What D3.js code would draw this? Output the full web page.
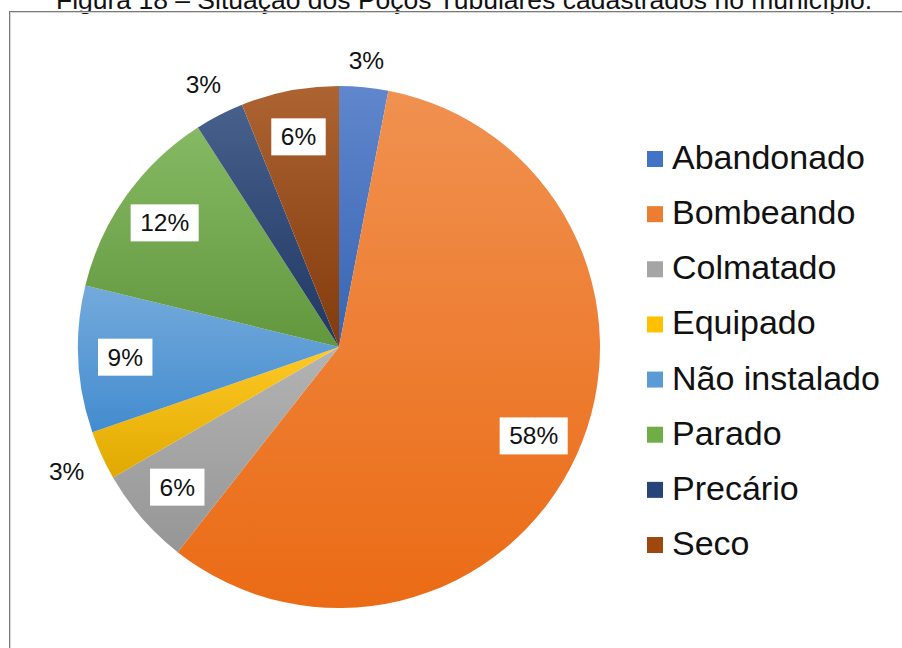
<!DOCTYPE html>
<html>
<head>
<meta charset="utf-8">
<script src="https://cdn.jsdelivr.net/npm/d3@7"></script>
<style>
body { margin: 0; background: #fff; }
text { font-family: "Liberation Sans", Arial, sans-serif; }
</style>
</head>
<body>
<svg id="chart"></svg>
<script>
// situação dos poços (número de poços por categoria)
var categories = ["Abandonado", "Bombeando", "Colmatado", "Equipado", "Não instalado", "Parado", "Precário", "Seco"];
var counts = [1, 19, 2, 1, 3, 4, 1, 2];
var colors = ["#4472C4", "#ED7D31", "#A5A5A5", "#FFC000", "#5B9BD5", "#70AD47", "#264478", "#9E480E"];
var title = "Figura 18 – Situação dos Poços Tubulares cadastrados no município.";

var width = 902, height = 648;
var cx = 339, cy = 347, radius = 261;

var svg = d3.select("#chart")
    .attr("width", width)
    .attr("height", height);

svg.append("rect").attr("width", width).attr("height", height).attr("fill", "#fff");

// titulo (cortado pela borda superior, como na figura original)
svg.append("text")
    .attr("x", 464)
    .attr("y", 8.5)
    .attr("text-anchor", "middle")
    .attr("font-size", 26.5)
    .attr("fill", "#111")
    .text(title);

// moldura do grafico
svg.append("rect")
    .attr("x", 9.5).attr("y", 11.5)
    .attr("width", 1000).attr("height", 1000)
    .attr("fill", "none").attr("stroke", "#7a7a7a");
svg.append("rect")
    .attr("x", 10.5).attr("y", 12.5)
    .attr("width", 1000).attr("height", 1000)
    .attr("fill", "none").attr("stroke", "#d6d6d6");

var total = d3.sum(counts);
var fmt = d3.format(".0%");

// gradientes verticais (mais claro em cima)
var defs = svg.append("defs");
colors.forEach(function(c, i) {
  var top = d3.interpolateRgb(c, "#fff")(0.15);
  var h = d3.hsl(c);
  h.l = h.l - 0.06;
  var g = defs.append("linearGradient")
      .attr("id", "grad" + i)
      .attr("x1", 0).attr("y1", 0).attr("x2", 0).attr("y2", 1);
  g.append("stop").attr("offset", "0%").attr("stop-color", top);
  g.append("stop").attr("offset", "100%").attr("stop-color", h.formatHex());
});

var pie = d3.pie().sort(null).value(function(d) { return d; });
var arcs = pie(counts);

var arc = d3.arc().innerRadius(0).outerRadius(radius);
var labelArc = d3.arc().innerRadius(radius * 0.82).outerRadius(radius * 0.82);

var g = svg.append("g").attr("transform", "translate(" + cx + "," + cy + ")");

g.selectAll(".slice")
    .data(arcs)
  .enter().append("path")
    .attr("class", "slice")
    .attr("d", arc)
    .attr("fill", function(d, i) { return "url(#grad" + i + ")"; });

// rotulos
var fontSize = 24.5, padX = 9.5, boxH = 37;
arcs.forEach(function(d, i) {
  var share = d.value / total;
  var lbl = g.append("g");
  var t = lbl.append("text")
      .attr("text-anchor", "middle")
      .attr("dy", "0.35em")
      .attr("font-size", fontSize)
      .attr("fill", "#111")
      .text(fmt(share));
  var w = t.node().getComputedTextLength() + 2 * padX;
  var pos;
  if (share >= 0.05) {
    pos = labelArc.centroid(d);
    lbl.insert("rect", "text")
        .attr("x", -w / 2).attr("y", -boxH / 2)
        .attr("width", w).attr("height", boxH)
        .attr("fill", "#fff");
  } else {
    var a = (d.startAngle + d.endAngle) / 2;
    var ux = Math.sin(a), uy = -Math.cos(a);
    var dist = radius + 6 + Math.abs(ux) * w / 2 + Math.abs(uy) * boxH / 2;
    pos = [ux * dist, uy * dist];
  }
  lbl.attr("transform", "translate(" + pos[0] + "," + pos[1] + ")");
});

// legenda
var y = d3.scalePoint()
    .domain(categories)
    .range([159, 545]);

var legend = svg.append("g").selectAll(".legend")
    .data(categories)
  .enter().append("g")
    .attr("class", "legend")
    .attr("transform", function(d) { return "translate(647," + y(d) + ")"; });

legend.append("rect")
    .attr("x", 0).attr("y", -8)
    .attr("width", 16).attr("height", 16)
    .attr("fill", function(d, i) { return colors[i]; });

legend.append("text")
    .attr("x", 25)
    .attr("y", 10)
    .attr("font-size", 34)
    .attr("fill", "#111")
    .text(function(d) { return d; });
</script>
</body>
</html>
